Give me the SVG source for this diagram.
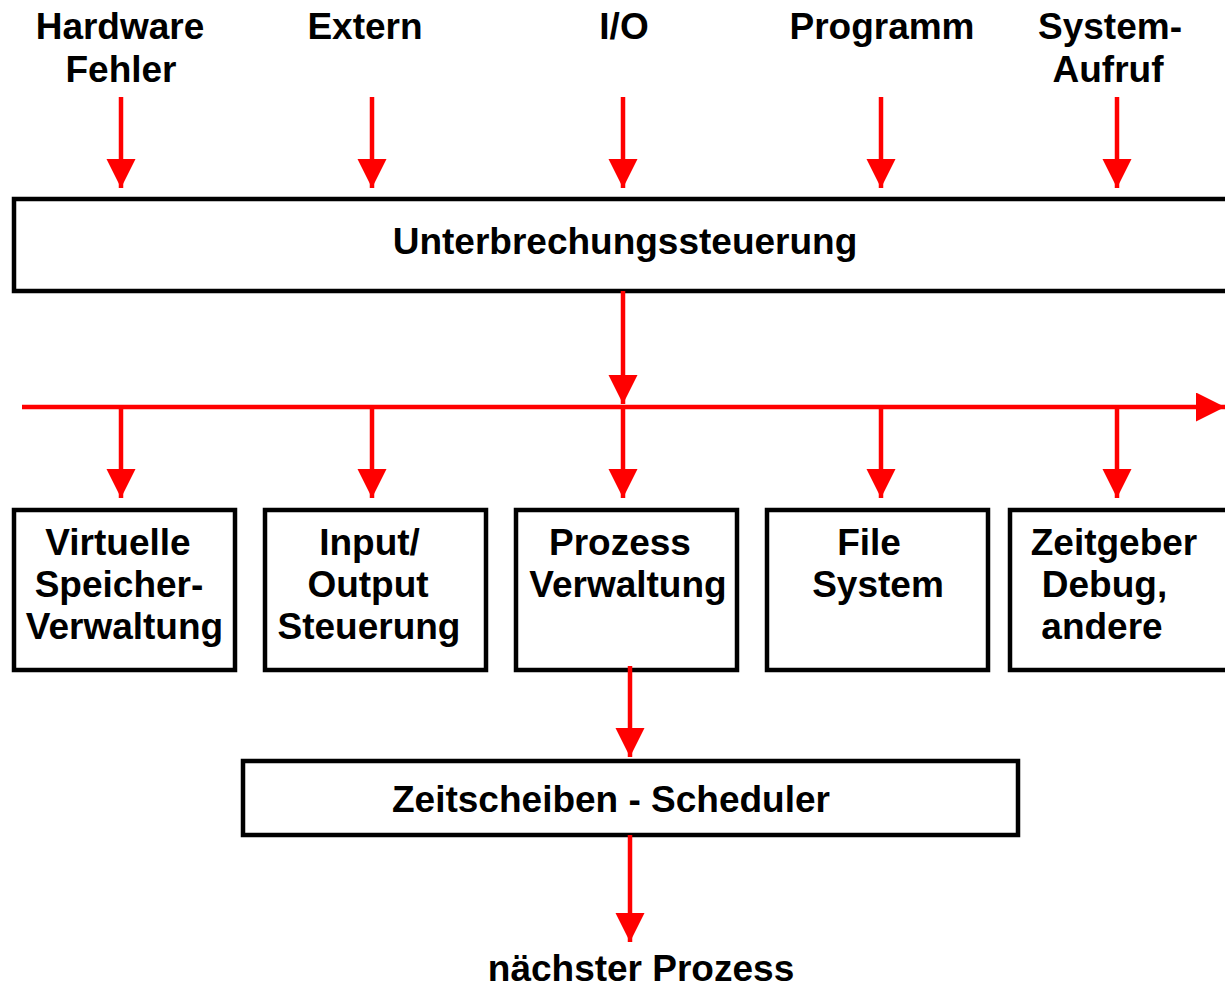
<svg xmlns="http://www.w3.org/2000/svg" width="1225" height="987" viewBox="0 0 1225 987">
<style>
text{font-family:"Liberation Sans",Arial,sans-serif;font-weight:bold;font-size:37px;fill:#000;text-anchor:middle}
.box{fill:#fff;stroke:#000;stroke-width:4.5}
.c{stroke:#ff0000;stroke-width:4.5;fill:none;marker-end:url(#ah)}
</style>
<defs>
<marker id="ah" markerUnits="userSpaceOnUse" markerWidth="30" markerHeight="30" refX="29" refY="14.5" orient="auto">
<path d="M0,0 L29,14.5 L0,29 z" fill="#ff0000"/>
</marker>
</defs>
<rect width="1225" height="987" fill="#fff"/>
<g id="labels-top">
<text x="120" y="39">Hardware</text>
<text x="121" y="82">Fehler</text>
<text x="365" y="39">Extern</text>
<text x="624" y="39">I/O</text>
<text x="882" y="39">Programm</text>
<text x="1110" y="39">System-</text>
<text x="1108" y="82">Aufruf</text>
</g>
<g id="unterbrechung">
<rect class="box" x="14" y="199" width="1220" height="92"/>
<text x="625" y="254">Unterbrechungssteuerung</text>
</g>
<g id="n-virt">
<rect class="box" x="14" y="510" width="221" height="160"/>
<text x="118" y="555">Virtuelle</text>
<text x="119" y="597">Speicher-</text>
<text x="124.5" y="639">Verwaltung</text>
</g>
<g id="n-io">
<rect class="box" x="265" y="510" width="221" height="160"/>
<text x="369.5" y="555">Input/</text>
<text x="368" y="597">Output</text>
<text x="369" y="639">Steuerung</text>
</g>
<g id="n-proz">
<rect class="box" x="516" y="510" width="221" height="160"/>
<text x="620" y="555">Prozess</text>
<text x="628" y="597">Verwaltung</text>
</g>
<g id="n-file">
<rect class="box" x="767" y="510" width="221" height="160"/>
<text x="869" y="555">File</text>
<text x="878" y="597">System</text>
</g>
<g id="n-zeit">
<rect class="box" x="1010" y="510" width="230" height="160"/>
<text x="1114" y="555">Zeitgeber</text>
<text x="1104.5" y="597">Debug,</text>
<text x="1102" y="639">andere</text>
</g>
<g id="scheduler">
<rect class="box" x="243" y="761" width="775" height="74"/>
<text x="611" y="812">Zeitscheiben - Scheduler</text>
</g>
<g id="result">
<text x="641" y="981">nächster Prozess</text>
</g>
<g id="connectors">
<line class="c" x1="121" y1="97" x2="121" y2="188"/>
<line class="c" x1="372" y1="97" x2="372" y2="188"/>
<line class="c" x1="623" y1="97" x2="623" y2="188"/>
<line class="c" x1="881" y1="97" x2="881" y2="188"/>
<line class="c" x1="1117" y1="97" x2="1117" y2="188"/>
<line class="c" x1="623" y1="291" x2="623" y2="404"/>
<line class="c" x1="22" y1="407" x2="1225" y2="407"/>
<line class="c" x1="121" y1="407" x2="121" y2="498"/>
<line class="c" x1="372" y1="407" x2="372" y2="498"/>
<line class="c" x1="623" y1="407" x2="623" y2="498"/>
<line class="c" x1="881" y1="407" x2="881" y2="498"/>
<line class="c" x1="1117" y1="407" x2="1117" y2="498"/>
<line class="c" x1="630" y1="666" x2="630" y2="757"/>
<line class="c" x1="630" y1="835" x2="630" y2="942"/>
</g>
</svg>
